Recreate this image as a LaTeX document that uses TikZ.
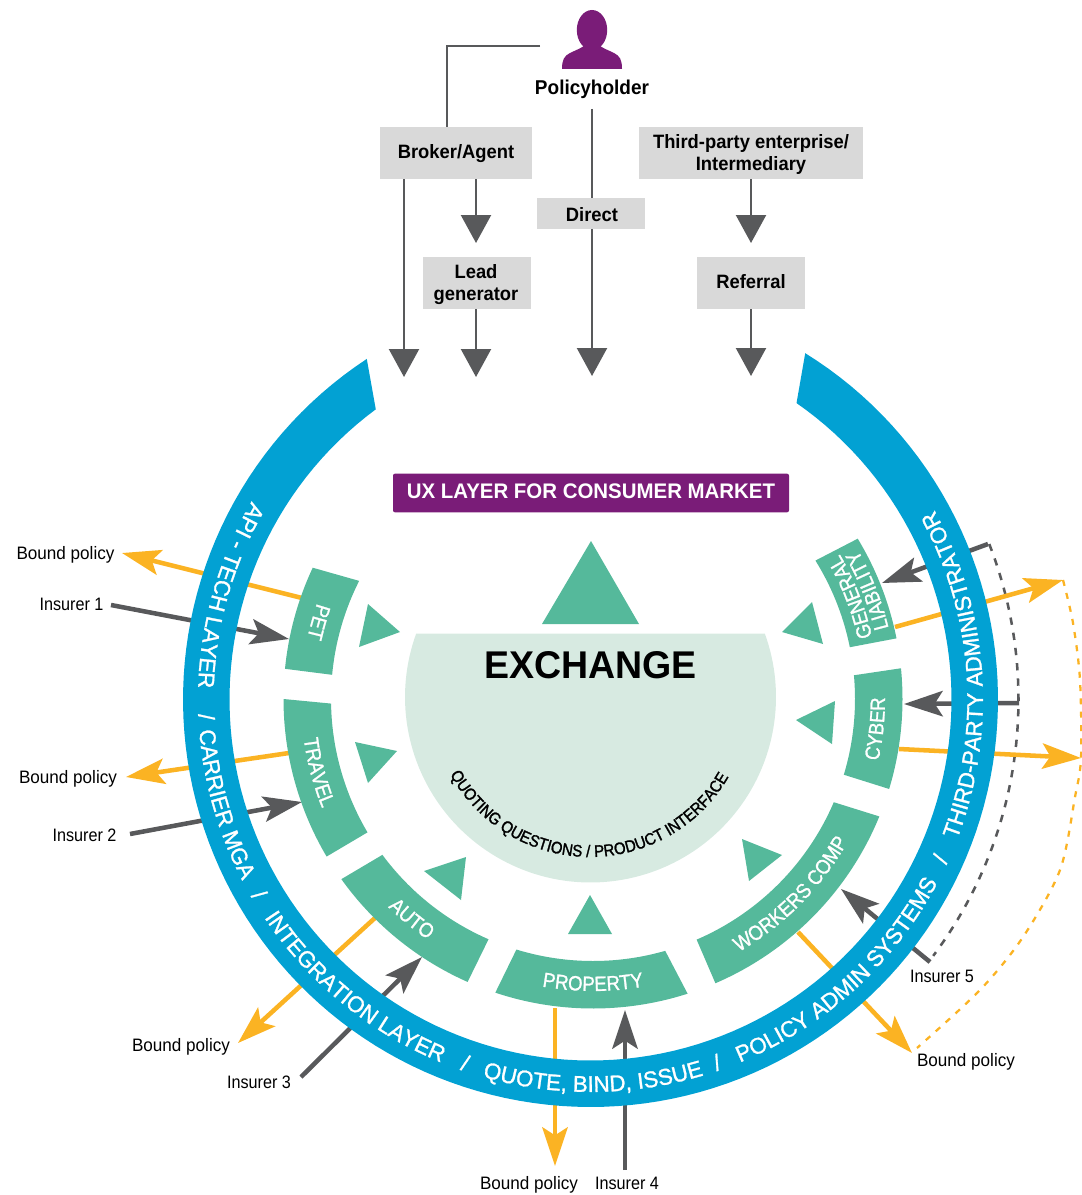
\documentclass[tikz,border=0pt]{standalone}
\usepackage{fontspec}
\usetikzlibrary{arrows.meta,decorations.text}
\setmainfont{Liberation Sans}
\newfontfamily\labelfont[FakeStretch=0.95]{Liberation Sans}
\newfontfamily\insurerfont[FakeStretch=0.9]{Liberation Sans}
\newfontfamily\boxfont[FakeStretch=0.95]{Liberation Sans Bold}
\newfontfamily\blueface[FakeStretch=0.985,FakeBold=1.2]{Liberation Sans}
\newfontfamily\greenface[FakeStretch=0.9,FakeBold=1.2]{Liberation Sans}
\newfontfamily\quoteface[FakeStretch=0.9,FakeBold=1.5]{Liberation Sans}
\newfontfamily\ringbold[FakeStretch=0.97]{Liberation Sans Bold}
\definecolor{ringblue}{HTML}{02A1D3}
\definecolor{leaf}{HTML}{55B99B}
\definecolor{plum}{HTML}{7A1C78}
\definecolor{boxgrey}{HTML}{D9D9D9}
\definecolor{pale}{HTML}{D7EAE1}
\definecolor{slate}{HTML}{58595B}
\definecolor{amber}{HTML}{FBB323}
\newcommand{\blueT}{\blueface\fontsize{17}{19}\selectfont\color{white}}
\newcommand{\greenT}{\greenface\fontsize{15.5}{18}\selectfont\color{white}}
\newcommand{\quoteT}{\quoteface\fontsize{12.5}{14}\selectfont\color{black}}
\newcommand{\greensector}[4]{\fill[leaf] plot[domain=#1:#2,samples=40] ({593+309.5*cos(\x)},{699-309.5*sin(\x)}) -- plot[domain=#4:#3,samples=40] ({593+262*cos(\x)},{699-262*sin(\x)}) -- cycle;}
\newcommand{\curvedtext}[6]{\pgfmathsetmacro{\angS}{#4-75}\pgfmathsetmacro{\angE}{#4+75}
 \path[decorate,decoration={text along path,text align=center,text={|#5|#6}}] plot[domain=\angS:\angE,samples=90] ({#1+#3*cos(\x)},{#2-#3*sin(\x)});}
\tikzset{
 flowbox/.style={fill=boxgrey,inner sep=0pt},
 boxlabel/.style={inner sep=0pt,align=center,font=\boxfont\fontsize{14.5}{16.5}\selectfont},
 thinline/.style={draw=slate,line width=1.7pt},
 flowarrow/.style={thinline,-{Triangle[length=21pt,width=22.5pt,fill=slate]}},
 ingrey/.style={draw=slate,line width=3.4pt,-{Stealth[length=29pt,width=19pt,inset=6pt]}},
 outamber/.style={draw=amber,line width=3.4pt,-{Stealth[length=29pt,width=19pt,inset=6pt]}},
 lbl/.style={font=\labelfont\fontsize{13.5}{16}\selectfont,inner sep=0pt},
 inslbl/.style={font=\insurerfont\fontsize{13.5}{16}\selectfont,inner sep=0pt},
 wedge/.style={fill=leaf},
}
\begin{document}
\begin{tikzpicture}[x=0.75pt,y=-0.75pt]
\useasboundingbox (0,0) rectangle (1081,1195);
% person
\fill[plum] (592,30) ellipse [x radius=11.4pt,y radius=15pt];
\fill[plum] (562,69) .. controls (562,60) and (564,56) .. (570,53) .. controls (576,50) and (582,48) .. (585,45) -- (585,38) -- (599,38) -- (599,45) .. controls (602,48) and (608,50) .. (614,53) .. controls (620,56) and (622,60) .. (622,69) -- cycle;
\node[font=\boxfont\fontsize{15}{17}\selectfont,inner sep=0pt] (holder) at (592,89) {Policyholder};
% boxes
\node[flowbox,minimum width=114pt,minimum height=39pt] (broker) at (456,153) {};
\node[flowbox,minimum width=168pt,minimum height=39pt] (third) at (751,153) {};
\node[flowbox,minimum width=81pt,minimum height=23.25pt] (direct) at (591,213.5) {};
\node[flowbox,minimum width=81pt,minimum height=39pt] (lead) at (477,283) {};
\node[flowbox,minimum width=81pt,minimum height=39pt] (referral) at (751,283) {};
\node[boxlabel] (brokerT) at (456,154) {Broker/Agent};
\node[boxlabel] (thirdT) at (751,155) {Third-party enterprise/\\Intermediary};
\node[boxlabel] (directT) at (592,214.5) {Direct};
\node[boxlabel] (leadT) at (476,285) {Lead\\generator};
\node[boxlabel] (referralT) at (751,281.5) {Referral};
% top connectors
\coordinate (hstart) at (540,46);
\coordinate (hcorner) at (447,46);
\coordinate (holderfoot) at (592,109);
\coordinate (t1) at (404,377);
\coordinate (t2) at (476,377);
\coordinate (t3) at (592,376);
\coordinate (t4) at (751,376);
\coordinate (m2) at (476,243);
\coordinate (m4) at (751,243);
\draw[thinline] (hstart) -- (hcorner) -- (hcorner |- broker.north);
\draw[flowarrow] (t1 |- broker.south) -- (t1);
\draw[flowarrow] (m2 |- broker.south) -- (m2);
\draw[flowarrow] (t2 |- lead.south) -- (t2);
\draw[thinline] (holderfoot) -- (holderfoot |- direct.north);
\draw[flowarrow] (t3 |- direct.south) -- (t3);
\draw[flowarrow] (m4 |- third.south) -- (m4);
\draw[flowarrow] (t4 |- referral.south) -- (t4);
% dashed arcs
\coordinate (gtop) at (988,544);
\coordinate (gmid) at (1019,703);
\coordinate (gbot) at (932,953);
\coordinate (ytop) at (1063,580);
\coordinate (ymid) at (1081,758);
\coordinate (ybot) at (917,1048);
\draw[slate,line width=1.9pt,dash pattern=on 5.5pt off 6pt] plot[domain=21.3:-36.8,samples=50] ({590.5+428*cos(\x)},{699.5-428*sin(\x)});
\draw[amber,line width=1.7pt,dash pattern=on 4.5pt off 5.5pt] plot[smooth] coordinates {(ytop) (1073,623) (1080,680) (ymid) (1075,797) (1060,870) (1023,937) (980,990) (ybot)};
% insurer and bound-policy arrows
\coordinate (pa) at (302,598); \coordinate (pb) at (122,553);
\coordinate (ia) at (111,605); \coordinate (ib) at (289,639);
\coordinate (ta) at (289,753); \coordinate (tb) at (126,777);
\coordinate (ja) at (130,834); \coordinate (jb) at (302,802);
\coordinate (aa) at (376,917); \coordinate (ab) at (238,1043);
\coordinate (ka) at (301,1077); \coordinate (kb) at (422,957);
\coordinate (ra) at (555,1008); \coordinate (rb) at (555,1166);
\coordinate (la) at (625,1170); \coordinate (lb) at (625,1010);
\coordinate (wa) at (798,932); \coordinate (wb) at (912,1053);
\coordinate (na) at (930,962); \coordinate (nb) at (841,889);
\coordinate (ca) at (899,749); \coordinate (cb) at (1081,758);
\coordinate (ga) at (895,627); \coordinate (gb) at (1063,580);
\coordinate (qb) at (904,704);
\coordinate (sb) at (882,583);
\draw[outamber] (pa) -- (pb);
\draw[ingrey] (ia) -- (ib);
\draw[outamber] (ta) -- (tb);
\draw[ingrey] (ja) -- (jb);
\draw[outamber] (aa) -- (ab);
\draw[ingrey] (ka) -- (kb);
\draw[outamber] (ra) -- (rb);
\draw[ingrey] (la) -- (lb);
\draw[outamber] (wa) -- (wb);
\draw[ingrey] (na) -- (nb);
\draw[outamber] (ca) -- (cb);
\draw[outamber] (ga) -- (gb);
\draw[ingrey] (gmid) -- (qb);
\draw[ingrey] (gtop) -- (sb);
% blue ring
\fill[ringblue] plot[domain=58.2:-236.7,samples=150] ({590.5+407.5*cos(\x)},{699.5-407.5*sin(\x)}) -- plot[domain=-233.5:55.2,samples=150] ({590.5+361*cos(\x)},{699.5-361*sin(\x)}) -- cycle;
\curvedtext{590.5}{699.5}{392.5}{164}{\blueT}{API - TECH LAYER}
\curvedtext{590.5}{699.5}{392.5}{182.6}{\blueT}{/}
\curvedtext{590.5}{699.5}{392.5}{196}{\blueT}{CARRIER MGA}
\curvedtext{590.5}{699.5}{392.5}{210.5}{\blueT}{/}
\curvedtext{590.5}{699.5}{392.5}{230.7}{\blueT}{INTEGRATION LAYER}
\curvedtext{590.5}{699.5}{392.5}{251}{\blueT}{/}
\curvedtext{590.5}{699.5}{392.5}{270.4}{\blueT}{QUOTE, BIND, ISSUE}
\curvedtext{590.5}{699.5}{392.5}{289.2}{\blueT}{/}
\curvedtext{590.5}{699.5}{392.5}{312.3}{\blueT}{POLICY ADMIN SYSTEMS}
\curvedtext{590.5}{699.5}{392.5}{335.5}{\blueT}{/}
\curvedtext{590.5}{699.5}{392.5}{4}{\blueT}{THIRD-PARTY ADMINISTRATOR}
% green sectors (outer start, outer end, inner start, inner end)
\greensector{154.9}{174.4}{153.2}{174.7}
\greensector{180}{210.6}{181}{210.6}
\greensector{215.6}{246.1}{216.5}{246.5}
\greensector{251.6}{287.8}{253}{286}
\greensector{293.3}{337.7}{293.3}{336.8}
\greensector{-16.9}{5.7}{-16.8}{5.2}
\greensector{11.3}{31.2}{11.4}{31.9}
\curvedtext{593}{699}{292}{164.4}{\greenT}{PET}
\curvedtext{593}{699}{292}{194.9}{\greenT}{TRAVEL}
\curvedtext{593}{699}{292}{230.5}{\greenT}{AUTO}
\curvedtext{593}{699}{292}{270}{\greenT}{PROPERTY}
\curvedtext{593}{699}{292}{315.4}{\greenT}{WORKERS COMP}
\curvedtext{593}{699}{292}{354}{\greenT}{CYBER}
\curvedtext{593}{699}{286}{21.5}{\greenT}{GENERAL}
\curvedtext{593}{699}{304}{21.5}{\greenT}{LIABILITY}
% triangles
\fill[wedge] (591,541) -- (639,624) -- (542,624) -- cycle;
\fill[wedge] (368,604) -- (400,632) -- (359,647) -- cycle;
\fill[wedge] (355,742) -- (397,751) -- (368,783) -- cycle;
\fill[wedge] (466,857) -- (461,900) -- (424,871) -- cycle;
\fill[wedge] (590,895) -- (612,934) -- (568,934) -- cycle;
\fill[wedge] (742,839) -- (782,855) -- (749,881) -- cycle;
\fill[wedge] (835,701) -- (796,720) -- (832,744) -- cycle;
\fill[wedge] (812,602) -- (782,632) -- (823,644) -- cycle;
% exchange
\fill[pale] plot[domain=160:380,samples=120] ({590.5+185.5*cos(\x)},{697-185.5*sin(\x)}) -- cycle;
\node[font=\ringbold\fontsize{29}{31}\selectfont,inner sep=0pt] (exchange) at (590.5,665) {EXCHANGE};
\curvedtext{590}{697}{160}{269.5}{\quoteT}{QUOTING QUESTIONS / PRODUCT INTERFACE}
% UX layer
\node[fill=plum,rounded corners=1.5pt,minimum width=297pt,minimum height=29pt,inner sep=0pt] (ux) at (591,493) {};
\node[text=white,inner sep=0pt,font=\ringbold\fontsize{15.8}{18}\selectfont] (uxT) at (591,491.5) {UX LAYER FOR CONSUMER MARKET};
% labels
\node[lbl] (b1) at (65.5,555) {Bound policy};
\node[inslbl] (i1) at (71.5,604) {Insurer 1};
\node[lbl] (b2) at (68,779) {Bound policy};
\node[inslbl] (i2) at (84.5,835) {Insurer 2};
\node[lbl] (b3) at (181,1047) {Bound policy};
\node[inslbl] (i3) at (259,1082) {Insurer 3};
\node[lbl] (b4) at (529,1185) {Bound policy};
\node[inslbl] (i4) at (627,1183) {Insurer 4};
\node[inslbl] (i5) at (942,976) {Insurer 5};
\node[lbl] (b5) at (966,1062) {Bound policy};
\end{tikzpicture}
\end{document}
